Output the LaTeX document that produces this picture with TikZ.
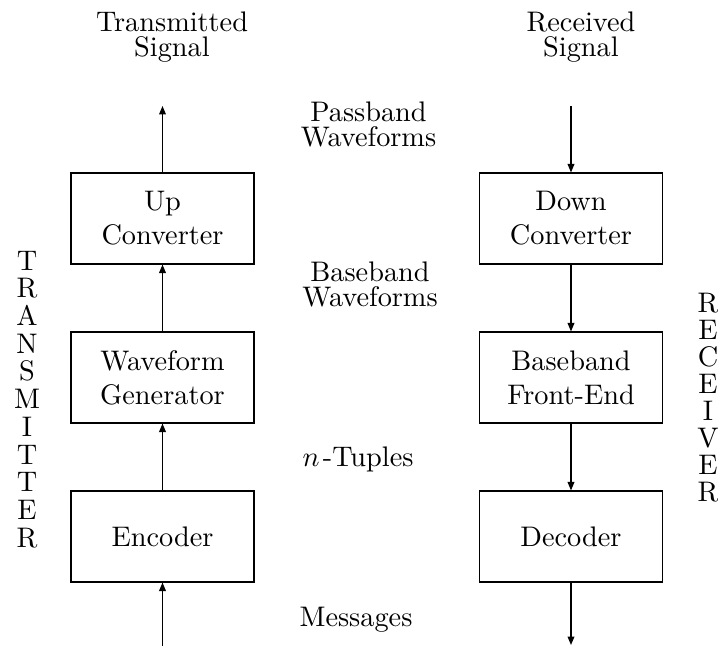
\documentclass[tikz,border=0pt]{standalone}
\usetikzlibrary{arrows.meta}
\begin{document}
\begin{tikzpicture}[x=0.35336pt,y=-0.35336pt,
  stepbox/.style={draw, line width=0.4pt, minimum width=183*0.35336pt,
    minimum height=91*0.35336pt, inner sep=0pt, align=center,
    font=\fontsize{10}{12}\selectfont},
  flow/.style={-{Triangle[length=3pt,width=2.4pt]}, line width=0.4pt},
  lbl/.style={inner sep=0pt, align=center, font=\fontsize{10}{8.85}\selectfont},
  vlbl/.style={inner sep=0pt, align=center}]
\useasboundingbox (0,0) rectangle (718,646);

% transmitter chain
\node[stepbox] (up)  at (162.5,218.5) {Up\\Converter};
\node[stepbox] (wg)  at (162.5,377.5) {Waveform\\Generator};
\node[stepbox] (enc) at (162.5,536.5) {Encoder};

% receiver chain
\node[stepbox] (down) at (571,218.5) {Down\\Converter};
\node[stepbox] (bfe)  at (571,377.5) {Baseband\\Front-End};
\node[stepbox] (dec)  at (571,536.5) {Decoder};

% free ends of the chains
\coordinate (txout)  at (162.5,106);
\coordinate (msgin)  at (162.5,646);
\coordinate (rxin)   at (571,106);
\coordinate (msgout) at (571,645);

\draw[flow] (msgin) -- (enc);
\draw[flow] (enc) -- (wg);
\draw[flow] (wg) -- (up);
\draw[flow] (up) -- (txout);

\draw[flow] (rxin) -- (down);
\draw[flow] (down) -- (bfe);
\draw[flow] (bfe) -- (dec);
\draw[flow] (dec) -- (msgout);

% signal labels
\node[lbl] (txsig) at (172,37.5) {Transmitted\\Signal};
\node[lbl] (rxsig) at (581,37.5) {Received\\Signal};
\node[lbl] (pass)  at (368.5,124.7) {Passband\\Waveforms};
\node[lbl] (base)  at (370,284.7) {Baseband\\Waveforms};
\node[inner sep=0pt, anchor=base] (tup) at (358,467) {$n$\kern1.2pt-Tuples};
\node[inner sep=0pt, anchor=base] (msg) at (356,626) {Messages};

% side titles
\node[vlbl, font=\fontsize{10}{9.8}\selectfont] (tx) at (27,399.4)
  {T\\R\\A\\N\\S\\M\\I\\T\\T\\E\\R};
\node[vlbl, font=\fontsize{10}{9.54}\selectfont] (rx) at (708,397.9)
  {R\\E\\C\\E\\I\\V\\E\\R};
\end{tikzpicture}
\end{document}
